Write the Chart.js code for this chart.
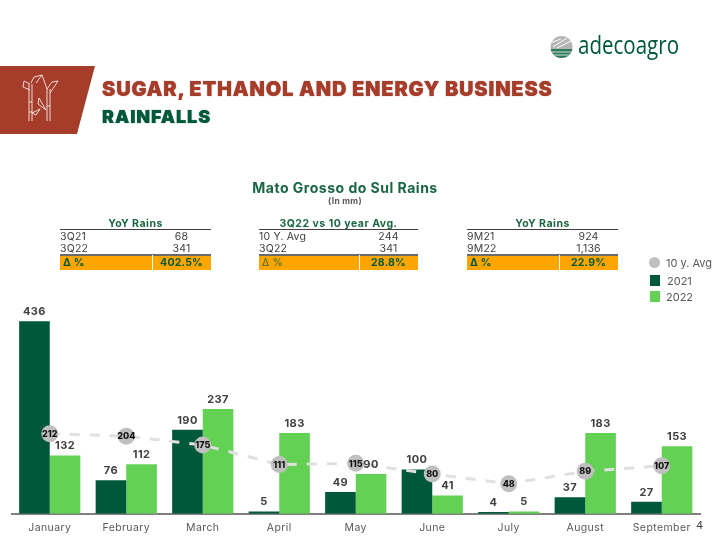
<!DOCTYPE html>
<html>
<head>
<meta charset="utf-8">
<title>Rainfalls</title>
<script src="https://cdn.jsdelivr.net/npm/chart.js@4"></script>
<style>
  html, body { margin: 0; padding: 0; background: #fff; }
  #page { position: relative; width: 720px; height: 540px; overflow: hidden; font-family: Inter, sans-serif; }
  #page canvas { position: absolute; left: 0; top: 0; }
  .abs { position: absolute; white-space: nowrap; }
  #banner { position: absolute; left: 0; top: 66px; width: 95px; height: 68px; background: #a63d2b; clip-path: polygon(0 0, 100% 0, 81% 100%, 0 100%); }
  .head { font-weight: 900; left: 102px; text-shadow: 0 0 1px currentColor; }
  .tbl { position: absolute; top: 216px; font-size: 10.5px; letter-spacing: 0.2px; color: #404040; }
  .tbl div { position: absolute; white-space: nowrap; }
  .tbl .ttl { left: 0; right: 0; top: 1px; text-align: center; font-weight: 700; color: #1a6644; font-size: 10.5px; letter-spacing: 0.5px; }
  .tbl .rule { left: 0; right: 0; height: 1px; top: 13px; background: #404040; }
  .tbl .rule2 { left: 0; right: 0; height: 2px; top: 38px; background: #6b6b6b; }
  .tbl .bar { left: 0; right: 0; height: 15px; top: 39px; background: #ffa500; }
  .tbl .gap { width: 1px; height: 15px; top: 39px; background: #fff; }
  .legend { position: absolute; font-size: 11px; color: #595959; }
</style>
</head>
<body>
<div id="page">
  <canvas id="chart" width="720" height="540"></canvas>
  <div id="banner"></div>
  <svg class="abs" style="left:0;top:66px" width="95" height="68" fill="none" stroke="#fff" stroke-width="0.8">
    <path d="M29 18V55M32 18V55M47 23V55M50 23V55M29 36H32M29 46H32M47 40H50"/>
    <path d="M30 18L24 15L23 21L30 24M31 17L34 11L42 9L36 17M42 9L47 23L52 16L58 15L50 27"/>
    <path d="M46 44L39 32L38 38L46 44M32 47L40 43L36 49L32 47"/>
  </svg>
  <div class="abs head" style="top:77px;font-size:20px;letter-spacing:0.82px;color:#a63d2b">SUGAR, ETHANOL AND ENERGY BUSINESS</div>
  <div class="abs head" style="top:106px;font-size:18px;letter-spacing:0.9px;color:#00583a">RAINFALLS</div>
  <svg class="abs" style="left:545px;top:30px" width="145" height="36">
    <defs><clipPath id="logoClip"><circle cx="16.5" cy="17" r="11"/></clipPath></defs>
    <g clip-path="url(#logoClip)">
      <rect x="5" y="6" width="23" height="22" fill="#b5b5b5"/>
      <path d="M5 13L16 9M8 17L22 8M12 18L28 10M5 20H28" stroke="#fff" stroke-width="1"/>
      <rect x="5" y="19" width="23" height="9" fill="#2f7a5c"/>
      <path d="M5 22H28M5 25H28" stroke="#cfe3da" stroke-width="1"/>
    </g>
    <text x="33" y="24" fill="#00583a" font-family="Open Sans" font-size="25.5" textLength="101" lengthAdjust="spacingAndGlyphs">adecoagro</text>
  </svg>
  <div class="abs" style="left:0;width:690px;text-align:center;top:179px;font-size:14px;letter-spacing:0.5px;font-weight:700;color:#1a6644">Mato Grosso do Sul Rains</div>
  <div class="abs" style="left:0;width:690px;text-align:center;top:196px;font-size:8.5px;letter-spacing:0.3px;font-weight:700;color:#595959">(In mm)</div>
  <div id="tables"></div>
  <div id="legend"></div>
  <div class="abs" style="left:696px;top:518px;font-size:11px;color:#404040">4</div>
</div>
<script>
  const months = ['January', 'February', 'March', 'April', 'May', 'June', 'July', 'August', 'September'];
  const rains2021 = [436, 76, 190, 5, 49, 100, 4, 37, 27];
  const rains2022 = [132, 112, 237, 183, 90, 41, 5, 183, 153];
  const tenYearAvg = [212, 204, 175, 111, 115, 80, 48, 89, 107];

  const yoyQuarter = ['YoY Rains', '3Q21', '68', '3Q22', '341', '402.5%'];
  const vsAverage = ['3Q22 vs 10 year Avg.', '10 Y. Avg', '244', '3Q22', '341', '28.8%'];
  const yoyNineMonths = ['YoY Rains', '9M21', '924', '9M22', '1,136', '22.9%'];

  const DARK_GREEN = '#00583a';
  const LIGHT_GREEN = '#62d154';
  const AVG_GREY = '#bfbfbf';

  // Summary tables above the chart
  function addTable(rows, left, width, gapAt, plainDelta) {
    const t = document.createElement('div');
    t.className = 'tbl';
    t.style.left = left + 'px';
    t.style.width = width + 'px';
    const valueLeft = gapAt + (width - gapAt) / 2;
    const deltaStyle = plainDelta ? 'color:#3f6b2a' : 'color:#00583a;font-weight:700';
    t.innerHTML = `
      <div class="ttl">${rows[0]}</div>
      <div class="rule"></div>
      <div style="left:0;top:13.5px">${rows[1]}</div>
      <div style="left:${valueLeft - 30}px;width:60px;text-align:center;top:13.5px">${rows[2]}</div>
      <div style="left:0;top:26px">${rows[3]}</div>
      <div style="left:${valueLeft - 30}px;width:60px;text-align:center;top:26px">${rows[4]}</div>
      <div class="bar"></div>
      <div class="rule2"></div>
      <div class="gap" style="left:${gapAt}px"></div>
      <div style="left:3px;top:40px;${deltaStyle}">Δ %</div>
      <div style="left:${valueLeft - 30}px;width:60px;text-align:center;top:40px;color:#00583a;font-weight:700">${rows[5]}</div>`;
    document.getElementById('tables').appendChild(t);
  }
  addTable(yoyQuarter, 60, 151, 92, false);
  addTable(vsAverage, 259, 159, 100, true);
  addTable(yoyNineMonths, 467, 151, 92, false);

  // Bar values above the bars, averages inside the circles
  const valueLabels = {
    id: 'valueLabels',
    beforeDraw(chart) {
      chart.ctx.letterSpacing = '0.4px';
    },
    afterDatasetsDraw(chart) {
      const ctx = chart.ctx;
      ctx.save();
      ctx.textAlign = 'center';
      [1, 2].forEach(i => {
        ctx.font = '700 11px Inter';
        ctx.fillStyle = '#404040';
        ctx.textBaseline = 'bottom';
        chart.getDatasetMeta(i).data.forEach((bar, idx) => {
          ctx.fillText(chart.data.datasets[i].data[idx], bar.x, bar.y - 4);
        });
      });
      ctx.letterSpacing = '0px';
      ctx.font = '800 9px Inter';
      ctx.fillStyle = '#111';
      ctx.textBaseline = 'middle';
      chart.getDatasetMeta(0).data.forEach((pt, idx) => {
        ctx.fillText(chart.data.datasets[0].data[idx], pt.x, pt.y + 0.5);
      });
      ctx.restore();
    },
  };

  const chart = new Chart(document.getElementById('chart').getContext('2d'), {
    data: {
      labels: months,
      datasets: [
        {
          type: 'line',
          label: '10 y. Avg',
          data: tenYearAvg,
          yAxisID: 'yAvg',
          order: 0,
          borderColor: '#e0e0e0',
          borderWidth: 3,
          borderDash: [10, 10],
          tension: 0,
          pointRadius: 8.5,
          pointBackgroundColor: AVG_GREY,
          pointBorderColor: AVG_GREY,
          pointBorderWidth: 0,
        },
        { type: 'bar', label: '2021', data: rains2021, order: 1, backgroundColor: DARK_GREEN },
        { type: 'bar', label: '2022', data: rains2022, order: 1, backgroundColor: LIGHT_GREEN },
      ],
    },
    options: {
      responsive: false,
      animation: false,
      layout: { padding: { left: 11.5, right: 20, top: 300, bottom: 0 } },
      datasets: { bar: { barPercentage: 1, categoryPercentage: 0.8 } },
      scales: {
        x: {
          grid: { display: false, drawTicks: false },
          border: { color: '#7f7f7f', width: 2 },
          ticks: { color: '#595959', font: { family: 'Inter', size: 10.5 }, padding: 8, maxRotation: 0, autoSkip: false },
          afterFit: s => { s.height = 26.3; },
        },
        y: { display: false, min: 0, max: 484 },
        // the average line sits on its own hidden scale in the source chart
        yAvg: { display: false, min: -50, max: 650 },
      },
      plugins: { legend: { display: false }, tooltip: { enabled: false } },
    },
    plugins: [valueLabels],
  });

  // Legend stacked at the right, built from the datasets
  const legendBox = document.getElementById('legend');
  const legendRows = [
    { left: 649, top: 257, textLeft: 666, radius: 5.5 },
    { left: 650, top: 275, textLeft: 667, radius: 0 },
    { left: 650, top: 291, textLeft: 666, radius: 0 },
  ];
  chart.data.datasets.forEach((ds, i) => {
    const r = legendRows[i];
    const swatch = document.createElement('div');
    swatch.className = 'abs';
    swatch.style.cssText = `left:${r.left}px;top:${r.top}px;width:${r.radius ? 11 : 10}px;height:11px;border-radius:${r.radius}px;background:${r.radius ? AVG_GREY : ds.backgroundColor}`;
    const text = document.createElement('div');
    text.className = 'legend';
    text.style.cssText = `left:${r.textLeft}px;top:${r.top - 1}px`;
    text.textContent = ds.label;
    legendBox.append(swatch, text);
  });
</script>
</body>
</html>
